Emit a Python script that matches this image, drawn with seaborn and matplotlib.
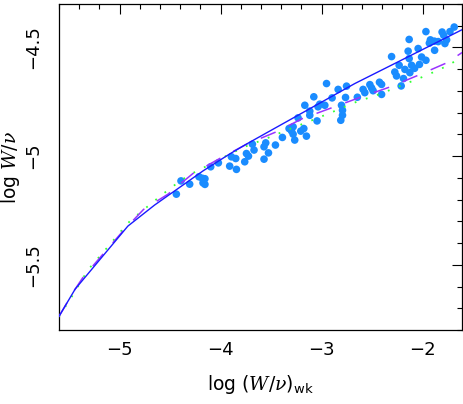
import matplotlib
matplotlib.use('Agg')
import matplotlib.pyplot as plt
from matplotlib.ticker import MultipleLocator
import numpy as np
import pandas as pd
import seaborn as sns

sns.set_theme(style='white')
plt.rcParams['font.family'] = ['DejaVu Sans']
plt.rcParams['mathtext.fontset'] = 'custom'
plt.rcParams['mathtext.rm'] = 'DejaVu Sans'
plt.rcParams['mathtext.it'] = 'DejaVu Serif:italic'

# observed points, log (W/nu)_wk vs log W/nu
obs_x = [-4.438, -4.392, -4.306, -4.214, -4.180, -4.155, -4.174, -4.155, -4.098, -4.022,
         -3.910, -3.843, -3.893, -3.850, -3.761, -3.744, -3.724, -3.685, -3.669, -3.570,
         -3.553, -3.570, -3.526, -3.457, -3.388, -3.322, -3.282, -3.298, -3.282, -3.266,
         -3.233, -3.206, -3.176, -3.166, -3.150, -3.117, -3.117, -3.077, -3.045, -3.035,
         -2.968, -3.018, -2.951, -2.896, -2.836, -2.810, -2.803, -2.793, -2.793, -2.763,
         -2.753, -2.646, -2.589, -2.572, -2.522, -2.505, -2.490, -2.427, -2.406, -2.406,
         -2.307, -2.275, -2.258, -2.232, -2.212, -2.189, -2.175, -2.143, -2.133, -2.126,
         -2.133, -2.109, -2.079, -2.044, -2.031, -2.010, -1.967, -1.967, -1.933, -1.923,
         -1.883, -1.881, -1.845, -1.807, -1.791, -1.779, -1.762, -1.729, -1.687]
obs_y = [-5.175, -5.114, -5.129, -5.095, -5.102, -5.104, -5.123, -5.130, -5.049, -5.031,
         -5.046, -5.061, -5.003, -5.011, -5.026, -4.988, -5.000, -4.945, -4.972, -4.957,
         -4.939, -5.014, -4.985, -4.949, -4.914, -4.873, -4.865, -4.884, -4.899, -4.926,
         -4.824, -4.885, -4.873, -4.766, -4.908, -4.812, -4.793, -4.727, -4.838, -4.773,
         -4.766, -4.761, -4.666, -4.732, -4.693, -4.835, -4.766, -4.789, -4.812, -4.730,
         -4.678, -4.729, -4.693, -4.708, -4.671, -4.686, -4.699, -4.660, -4.670, -4.716,
         -4.542, -4.613, -4.631, -4.582, -4.677, -4.643, -4.601, -4.517, -4.463, -4.616,
         -4.551, -4.582, -4.596, -4.505, -4.578, -4.544, -4.559, -4.427, -4.480, -4.465,
         -4.471, -4.513, -4.473, -4.429, -4.444, -4.482, -4.465, -4.427, -4.406]

# model curves
solid_x = [-5.602, -5.44, -4.918, -4.653, -4.174, -3.910, -3.761, -2.671, -1.608]
solid_y = [-5.739, -5.612, -5.322, -5.225, -5.068, -4.990, -4.949, -4.666, -4.418]

dash_x = [-5.602, -5.446, -5.364, -5.166, -4.967, -4.762, -4.521, -4.274, -4.009, -3.728,
          -3.447, -3.189, -2.902, -2.621, -2.324, -2.044, -1.762, -1.608]
dash_y = [-5.739, -5.616, -5.559, -5.452, -5.345, -5.245, -5.175, -5.080, -5.011, -4.942,
          -4.888, -4.827, -4.778, -4.730, -4.682, -4.628, -4.571, -4.523]

dot_x = [-5.602, -5.479, -5.314, -5.106, -4.967, -4.894, -4.653, -4.488, -4.313, -4.214,
         -3.927, -3.761, -3.546, -3.348, -3.051, -2.852, -2.654, -2.456, -2.258, -1.960,
         -1.762, -1.663, -1.608]
dot_y = [-5.739, -5.651, -5.524, -5.412, -5.335, -5.297, -5.205, -5.144, -5.087, -5.064,
         -4.995, -4.957, -4.919, -4.881, -4.827, -4.789, -4.750, -4.720, -4.684, -4.628,
         -4.586, -4.559, -4.545]

obs = pd.DataFrame({'x': obs_x, 'y': obs_y})

fig = plt.figure(figsize=(4.63, 4.04), dpi=100)
ax = fig.add_axes([0.1274, 0.1832, 0.8704, 0.8069])

sns.scatterplot(data=obs, x='x', y='y', ax=ax, color='#1a8cff', s=30,
                edgecolor='none', linewidth=0, zorder=2)
sns.lineplot(x=dot_x, y=dot_y, ax=ax, sort=False, estimator=None, color='#33ff33',
             lw=1.3, linestyle=(0, (1, 5.5)), zorder=3)
sns.lineplot(x=dash_x, y=dash_y, ax=ax, sort=False, estimator=None, color='#9933ff',
             lw=1.1, linestyle=(0, (10.5, 9.5)), zorder=3)
sns.lineplot(x=solid_x, y=solid_y, ax=ax, sort=False, estimator=None, color='#1a1aff',
             lw=1.0, zorder=4)

ax.set_xlim(-5.6, -1.61)
ax.set_ylim(-5.80, -4.30)
ax.xaxis.set_major_locator(MultipleLocator(1))
ax.xaxis.set_minor_locator(MultipleLocator(0.2))
ax.yaxis.set_major_locator(MultipleLocator(0.5))
ax.yaxis.set_minor_locator(MultipleLocator(0.1))
ax.set_xticks([-5, -4, -3, -2])
ax.set_xticklabels(['\u22125', '\u22124', '\u22123', '\u22122'])
ax.set_yticks([-5.5, -5, -4.5])
ax.set_yticklabels(['\u22125.5', '\u22125', '\u22124.5'], rotation=90, va='center')

ax.tick_params(which='both', direction='in', top=True, right=True, color='black',
               width=0.8, labelsize=13, labelcolor='black')
ax.tick_params(which='major', length=7)
ax.tick_params(which='minor', length=3.5)
ax.tick_params(axis='x', pad=8)
ax.tick_params(axis='y', pad=12)
for sp in ax.spines.values():
    sp.set_color('black')
    sp.set_linewidth(0.9)

ax.set_xlabel(r'log $(W/\nu)_{\rm wk}$', fontsize=13.5, color='black', labelpad=10)
ax.set_ylabel(r'log $W/\nu$', fontsize=13.5, color='black', labelpad=2)

fig.savefig('out.png', dpi=100)
